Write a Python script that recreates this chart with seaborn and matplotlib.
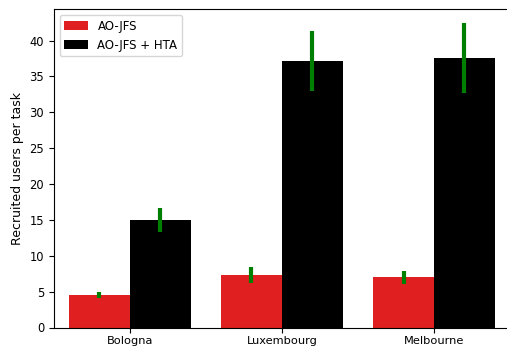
import matplotlib
matplotlib.use("Agg")
import matplotlib.pyplot as plt
import seaborn as sns
import pandas as pd
import numpy as np

cities = ["Bologna", "Luxembourg", "Melbourne"]
methods = ["AO-JFS", "AO-JFS + HTA"]
ao_jfs = [4.6, 7.3, 7.0]
ao_jfs_lo = [4.1, 6.2, 6.1]
ao_jfs_hi = [5.0, 8.5, 7.9]
hta = [15.0, 37.2, 37.5]
hta_lo = [13.3, 32.9, 32.7]
hta_hi = [16.7, 41.4, 42.5]

df = pd.DataFrame({
    "city": cities * 2,
    "method": [methods[0]] * 3 + [methods[1]] * 3,
    "value": ao_jfs + hta,
    "lo": ao_jfs_lo + hta_lo,
    "hi": ao_jfs_hi + hta_hi,
})

plt.rcParams['font.family'] = ['DejaVu Sans']
fig = plt.figure(figsize=(5.07, 3.48), dpi=100)
ax = fig.add_axes([53.8 / 507, (348 - 327.5) / 348, (510 - 53.8) / 507, (327.5 - 9) / 348])

sns.barplot(data=df, x="city", y="value", hue="method",
            palette=["#e02020", "#000000"], errorbar=None, ax=ax,
            saturation=1, width=0.8)

# error bars at bar centres
for cont, (_, grp) in zip(ax.containers, df.groupby("method", sort=False)):
    xs = [p.get_x() + p.get_width() / 2 for p in cont.patches]
    ax.vlines(xs, grp["lo"].values, grp["hi"].values, color="green", lw=3)

ax.set_ylim(0, 44.4)
ax.set_xlim(-0.5, 2.5)
ax.set_xlabel("")
ax.set_ylabel("Recruited users per task", fontsize=9)
ax.tick_params(axis="x", labelsize=8.2, pad=2.5)
ax.tick_params(axis="y", labelsize=8.3)
ax.legend(loc="upper left", fontsize=8.5, title=None)

fig.savefig("out.png", dpi=100)
